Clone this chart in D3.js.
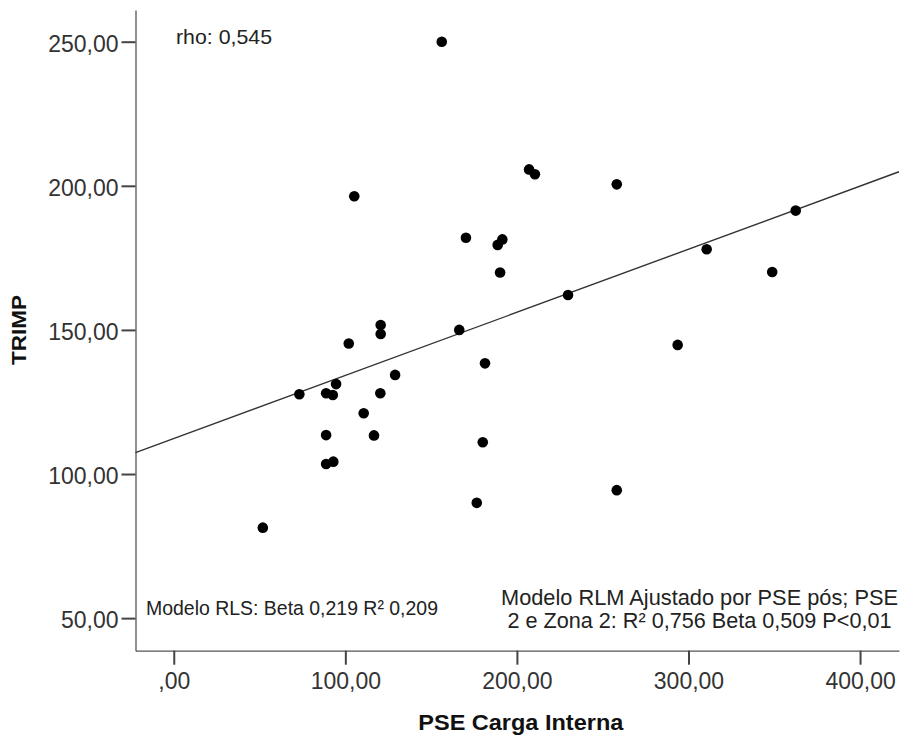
<!DOCTYPE html>
<html>
<head>
<meta charset="utf-8">
<script src="https://cdn.jsdelivr.net/npm/d3@7"></script>
<style>
  html, body { margin: 0; padding: 0; background: #fff; }
  svg { display: block; }
  text { font-family: "Liberation Sans", Arial, sans-serif; }
</style>
</head>
<body>
<svg id="chart" width="902" height="735"></svg>
<script>
// ---- Data ----
const pseCargaInterna = [156.2, 105.2, 120.6, 120.6, 102.0, 73.2, 88.8, 92.7, 94.6, 129.0,
  120.4, 110.7, 88.8, 116.7, 88.8, 93.0, 51.9, 207.1, 210.5, 258.2,
  170.3, 191.5, 188.8, 190.2, 229.8, 166.4, 181.4, 180.1, 176.6, 258.2,
  362.5, 310.6, 348.8, 293.7];
const trimp = [250.0, 196.4, 151.7, 148.6, 145.3, 127.7, 128.0, 127.4, 131.2, 134.4,
  128.0, 121.1, 113.5, 113.4, 103.5, 104.3, 81.4, 205.7, 204.0, 200.5,
  182.0, 181.4, 179.5, 169.9, 162.1, 150.0, 138.4, 111.0, 90.0, 94.4,
  191.4, 178.0, 170.1, 144.8];
const xTicks = [0, 100, 200, 300, 400];
const yTicks = [50, 100, 150, 200, 250];
const fitIntercept = 112.3;
const fitSlope = 0.219;
const xTitle = "PSE Carga Interna";
const yTitle = "TRIMP";
const rhoLabel = "rho: 0,545";
const rlsLabel = "Modelo RLS: Beta 0,219 R\u00B2 0,209";
const rlmLabel = ["Modelo RLM Ajustado por PSE p\u00F3s; PSE", "2 e Zona 2: R\u00B2 0,756 Beta 0,509 P<0,01"];

(function () {
// ---- Layout ----
const svg = d3.select("#chart");
const pLeft = 135.5, pRight = 899, pTop = 10, pBottom = 650.7;

const x = d3.scaleLinear().domain([-22.3, 422.7]).range([pLeft, pRight]);
const y = d3.scaleLinear().domain([38.7, 261.0]).range([pBottom, pTop]);

const fmt = v => v === 0 ? ",00" : d3.format(".2f")(v).replace(".", ",");

// Axes
const xAxis = d3.axisBottom(x).tickValues(xTicks).tickFormat(fmt).tickSize(14).tickPadding(8).tickSizeOuter(0);
const yAxis = d3.axisLeft(y).tickValues(yTicks).tickFormat(fmt).tickSize(14).tickPadding(3).tickSizeOuter(0);

const gx = svg.append("g").attr("transform", `translate(0,${pBottom})`).call(xAxis);
const gy = svg.append("g").attr("transform", `translate(${pLeft},0)`).call(yAxis);

[gx, gy].forEach(g => {
  g.select(".domain").attr("stroke", "#555").attr("stroke-width", 1.3);
  g.selectAll(".tick line").attr("stroke", "#444").attr("stroke-width", 2);
  g.selectAll(".tick text")
    .attr("fill", "#333")
    .style("font-family", "'Liberation Sans', Arial, sans-serif")
    .style("font-size", "23px");
});
gy.selectAll(".tick text").attr("dy", "0.42em");

// Fit line
const x0 = x.domain()[0], x1 = x.domain()[1];
svg.append("line")
  .attr("x1", x(x0)).attr("y1", y(fitIntercept + fitSlope * x0))
  .attr("x2", x(x1)).attr("y2", y(fitIntercept + fitSlope * x1))
  .attr("stroke", "#333").attr("stroke-width", 1.4);

// Points
svg.append("g").selectAll("circle")
  .data(pseCargaInterna.map((v, i) => [v, trimp[i]]))
  .join("circle")
  .attr("cx", d => x(d[0]))
  .attr("cy", d => y(d[1]))
  .attr("r", 5.3)
  .attr("fill", "#000");

// Annotations
svg.append("text").attr("x", 176).attr("y", 43.5)
  .attr("fill", "#222").style("font-size", "21px")
  .attr("textLength", 96).attr("lengthAdjust", "spacingAndGlyphs")
  .text(rhoLabel);

svg.append("text").attr("x", 146).attr("y", 615)
  .attr("fill", "#222").style("font-size", "20.5px")
  .attr("textLength", 292).attr("lengthAdjust", "spacingAndGlyphs")
  .text(rlsLabel);

const rlmWidths = [397, 384];
const rlmBase = [605, 628.3];
rlmLabel.forEach((t, i) => {
  svg.append("text").attr("x", 699.5).attr("y", rlmBase[i])
    .attr("text-anchor", "middle")
    .attr("fill", "#222").style("font-size", "21.5px")
    .attr("textLength", rlmWidths[i]).attr("lengthAdjust", "spacingAndGlyphs")
    .text(t);
});

// Axis titles
svg.append("text")
  .attr("x", 520.8).attr("y", 730)
  .attr("text-anchor", "middle")
  .attr("fill", "#111").style("font-size", "22px").style("font-weight", "bold")
  .attr("textLength", 205).attr("lengthAdjust", "spacingAndGlyphs")
  .text(xTitle);

svg.append("text")
  .attr("transform", "translate(26,330) rotate(-90)")
  .attr("text-anchor", "middle")
  .attr("fill", "#111").style("font-size", "21px").style("font-weight", "bold")
  .attr("textLength", 70).attr("lengthAdjust", "spacingAndGlyphs")
  .text(yTitle);
})();
</script>
</body>
</html>
